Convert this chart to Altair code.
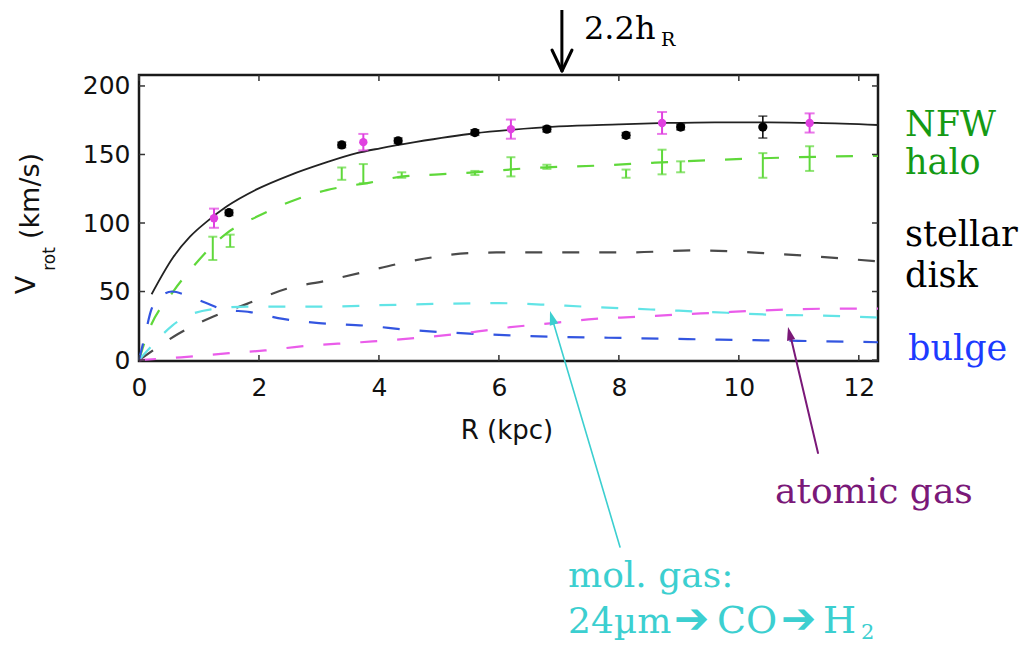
import math
import altair as alt
import pandas as pd

# ---------------- data ----------------
R_total = [0.21, 0.57, 0.85, 1.13, 1.46, 1.96, 2.52, 3.07, 3.63, 4.02, 4.6, 5.6, 6.2, 7.0, 8.0, 8.8, 9.6, 10.5, 11.3, 12.32]
V_total = [48, 75, 90, 101, 112, 124.5, 135, 143.5, 151, 154.5, 159, 165.5, 168, 170.5, 172, 173, 173.5, 173.5, 173, 171.5]

R_halo = [0, 0.15, 0.57, 0.9, 1.07, 1.46, 1.96, 2.52, 3.13, 3.85, 4.4, 5.0, 5.6, 6.5, 7.7, 8.6, 9.6, 11.0, 12.32]
V_halo = [0, 20, 50, 68, 76.5, 92.5, 104.5, 115.5, 124, 129.5, 134, 135.5, 137, 140, 142, 144, 146, 148, 149]

R_disk = [0, 0.3, 0.65, 1.25, 1.8, 2.46, 3.13, 3.68, 4.3, 4.9, 5.5, 6.0, 7.0, 8.1, 9.3, 10.6, 12.32]
V_disk = [0, 9, 19, 32, 41, 52, 58, 63.5, 70, 75, 78, 78.5, 78.5, 78.5, 80, 77.5, 72]

R_mol = [0, 0.25, 0.55, 0.8, 1.2, 1.8, 2.5, 3.2, 4.0, 5.0, 6.0, 6.7, 7.4, 8.2, 9.0, 9.8, 10.6, 11.3, 12.32]
V_mol = [0, 12, 25, 32, 37, 39, 39, 39, 40, 41, 41.5, 40.5, 39, 37.5, 36, 34.5, 33, 32.5, 31]

R_bulge = [0, 0.1, 0.2, 0.35, 0.55, 0.8, 1.1, 1.4, 1.85, 2.4, 3.0, 3.8, 4.5, 5.2, 6.2, 6.9, 8.2, 9.5, 11.0, 12.32]
V_bulge = [0, 18, 36, 46, 50, 47, 42, 37, 35, 30, 27, 25, 22, 20, 18, 17, 16, 15, 14, 13]

R_atomic = [0, 0.7, 1.5, 2.1, 2.7, 3.7, 4.85, 5.5, 6.0, 6.9, 7.6, 8.3, 8.9, 9.6, 10.3, 10.9, 11.6, 12.32]
V_atomic = [0, 2, 5, 7, 10, 13, 17, 20, 23, 27, 30, 31.5, 33, 34.5, 36, 37, 37.5, 37.5]

# observed rotation velocities (black) and error
R_obs = [1.5, 3.38, 4.32, 5.6, 6.8, 8.12, 9.03, 10.4]
V_obs = [107.5, 157, 160, 166, 168.5, 164, 170, 170]
E_obs = [2, 2, 2, 2, 2, 2, 2, 8]

# second tracer (magenta) with error
R_mag = [1.25, 3.74, 6.2, 8.72, 11.18]
V_mag = [103.5, 159, 168.5, 173, 173]
E_mag = [7, 6, 7, 8, 7]

# derived halo points (green) with error
R_hpt = [1.23, 1.52, 3.38, 3.74, 4.38, 5.6, 6.2, 6.8, 8.12, 8.72, 9.03, 10.4, 11.18]
V_hpt = [81.5, 87, 136, 136, 135, 136.5, 141, 141, 136, 144.5, 141, 142, 147]
E_hpt = [8.5, 4.5, 4.5, 7, 2, 1.5, 7, 1.5, 3, 9, 4, 9, 9]

x_ticks = [0, 2, 4, 6, 8, 10, 12]
y_ticks = [0, 50, 100, 150, 200]
R_arrow = 7.05  # 2.2 h_R

# ---------------- layout ----------------
W, H = 739, 286
X_DOM = [0, 12.32]
Y_DOM = [-0.7, 208]
SERIF = "DejaVu Serif"
SANS = "DejaVu Sans"

xs = alt.Scale(domain=X_DOM, nice=False, zero=False, padding=0)
ys = alt.Scale(domain=Y_DOM, nice=False, zero=False, padding=0)

def comp(name, R, V):
    return pd.DataFrame({"R": R, "V": V, "comp": name})

lines_df = pd.concat([
    comp("halo", R_halo, V_halo),
    comp("disk", R_disk, V_disk),
    comp("mol", R_mol, V_mol),
    comp("bulge", R_bulge, V_bulge),
    comp("atomic", R_atomic, V_atomic),
])
comp_names = ["halo", "disk", "mol", "bulge", "atomic"]
comp_colors = ["#5fd83a", "#4a4a4a", "#62e4e6", "#3355e0", "#ea5cea"]

xax = alt.Axis(values=x_ticks, format="d", ticks=False, domain=False, grid=False, title=None,
               labelFlush=False, labelFont=SANS, labelFontSize=25, labelColor="#111", labelPadding=14)
yax = alt.Axis(values=y_ticks, format="d", ticks=False, domain=False, grid=False, title=None,
               labelFlush=False, labelFont=SANS, labelFontSize=25, labelColor="#111", labelPadding=9)

dashed = alt.Chart(lines_df).mark_line(strokeDash=[17, 20], strokeWidth=2.2, interpolate="monotone").encode(
    x=alt.X("R:Q", scale=xs, axis=xax),
    y=alt.Y("V:Q", scale=ys, axis=yax),
    color=alt.Color("comp:N", scale=alt.Scale(domain=comp_names, range=comp_colors), legend=None),
    detail="comp:N",
)

total = alt.Chart(pd.DataFrame({"R": R_total, "V": V_total})).mark_line(
    color="#222", strokeWidth=1.8, interpolate="monotone").encode(x=alt.X("R:Q", scale=xs), y=alt.Y("V:Q", scale=ys))

def errbars(R, V, E, color, cap, width):
    df = pd.DataFrame({"R": R, "V": V, "lo": [v - e for v, e in zip(V, E)], "hi": [v + e for v, e in zip(V, E)]})
    base = alt.Chart(df)
    bar = base.mark_rule(color=color, strokeWidth=width).encode(
        x=alt.X("R:Q", scale=xs), y=alt.Y("lo:Q", scale=ys), y2="hi:Q")
    lo = base.mark_tick(color=color, orient="horizontal", size=cap, thickness=width).encode(
        x=alt.X("R:Q", scale=xs), y=alt.Y("lo:Q", scale=ys))
    hi = base.mark_tick(color=color, orient="horizontal", size=cap, thickness=width).encode(
        x=alt.X("R:Q", scale=xs), y=alt.Y("hi:Q", scale=ys))
    return [bar, lo, hi], base

halo_eb, _ = errbars(R_hpt, V_hpt, E_hpt, "#5fd83a", 9, 2)
obs_eb, obs_base = errbars(R_obs, V_obs, E_obs, "#111", 9, 1.6)
mag_eb, mag_base = errbars(R_mag, V_mag, E_mag, "#e040e0", 10, 2)

obs_pts = obs_base.mark_point(filled=True, color="#000", size=85, opacity=1, shape="circle").encode(
    x=alt.X("R:Q", scale=xs), y=alt.Y("V:Q", scale=ys))
mag_pts = mag_base.mark_point(filled=True, color="#e040e0", size=70, opacity=1, shape="circle").encode(
    x=alt.X("R:Q", scale=xs), y=alt.Y("V:Q", scale=ys))

# inward ticks on all four sides
xt = alt.Chart(pd.DataFrame({"t": x_ticks}))
yt = alt.Chart(pd.DataFrame({"t": y_ticks}))
tick_col = "#333"
ticks = [
    xt.mark_rule(color=tick_col, strokeWidth=1.5).encode(x=alt.X("t:Q", scale=xs), y=alt.value(H), y2=alt.value(H - 6)),
    xt.mark_rule(color=tick_col, strokeWidth=1.5).encode(x=alt.X("t:Q", scale=xs), y=alt.value(0), y2=alt.value(6)),
    yt.mark_rule(color=tick_col, strokeWidth=1.5).encode(y=alt.Y("t:Q", scale=ys), x=alt.value(0), x2=alt.value(6)),
    yt.mark_rule(color=tick_col, strokeWidth=1.5).encode(y=alt.Y("t:Q", scale=ys), x=alt.value(W), x2=alt.value(W - 6)),
]

one = alt.Chart(pd.DataFrame({"a": [0]}))
OX, OY = 139, 75  # page position of the plot origin

def text(t, px, py, size, color, font=SERIF, align="left", angle=0, baseline="alphabetic"):
    kw = dict(text=t, font=font, fontSize=size, color=color, align=align, baseline=baseline)
    if angle:
        kw["angle"] = angle
    return one.mark_text(**kw).encode(x=alt.value(px - OX), y=alt.value(py - OY))

def seg(x1, y1, x2, y2, color, w):
    return one.mark_rule(color=color, strokeWidth=w, strokeCap="round").encode(
        x=alt.value(x1 - OX), y=alt.value(y1 - OY), x2=alt.value(x2 - OX), y2=alt.value(y2 - OY))

def head(tx, ty, fx, fy, color, size):
    dx, dy = tx - fx, ty - fy
    L = math.hypot(dx, dy)
    ux, uy = dx / L, dy / L
    half = math.sqrt(size) / 2
    cx, cy = tx - ux * half, ty - uy * half
    ang = math.degrees(math.atan2(dx, -dy)) % 360
    return one.mark_point(shape="M0,-1L0.62,1L-0.62,1Z", filled=True, color=color, opacity=1,
                          size=size, angle=ang).encode(x=alt.value(cx - OX), y=alt.value(cy - OY))

CYAN = "#3ccfd0"
annot = [
    # axis titles
    text("R (kpc)", 507, 439, 26, "#111", font=SANS, align="center"),
    text("V", 27, 285, 27, "#111", font=SANS, align="center", angle=270, baseline="middle"),
    text("rot", 50, 259, 17, "#111", font=SANS, align="center", angle=270, baseline="middle"),
    text("(km/s)", 31, 196, 27, "#111", font=SANS, align="center", angle=270, baseline="middle"),
    # 2.2 h_R marker
    one.mark_rule(color="#000", strokeWidth=3).encode(
        x=alt.X("a:Q", scale=xs), y=alt.value(10 - OY), y2=alt.value(71 - OY)).transform_calculate(a=str(R_arrow)),
    seg(552, 50, 562, 71, "#000", 3),
    seg(572, 50, 562, 71, "#000", 3),
    text("2.2h", 584, 39, 32, "#000"),
    text("R", 661, 46, 19, "#000"),
    # component labels
    text("NFW", 905, 136, 35, "#159a15"),
    text("halo", 905, 174, 35, "#159a15"),
    text("stellar", 905, 246, 35, "#000"),
    text("disk", 905, 287, 35, "#000"),
    text("bulge", 908, 360, 35, "#1d3bff"),
    text("atomic gas", 775, 503, 36, "#7a1878"),
    text("mol. gas:", 568, 587, 36, CYAN),
    text("24µm", 568, 633, 36, CYAN),
    text("➔", 674, 633, 42, CYAN, font=SANS),
    text("CO", 717, 633, 38, CYAN),
    text("➔", 781, 633, 42, CYAN, font=SANS),
    text("H", 823, 633, 38, CYAN),
    text("2", 861, 639, 21, CYAN),
    # arrows to the gas curves
    seg(620, 547, 552, 318, CYAN, 1.6),
    head(550, 311, 620, 547, CYAN, 200),
    seg(818, 453, 790, 334, "#7a1878", 2),
    head(788, 327, 818, 453, "#7a1878", 180),
]

chart = alt.layer(dashed, total, *halo_eb, *obs_eb, *mag_eb, obs_pts, mag_pts, *ticks, *annot).properties(
    width=W, height=H,
    autosize=alt.AutoSizeParams(type="none"),
    padding={"left": OX - 8, "top": OY - 8, "right": 1020 - W - (OX - 8), "bottom": 636 - H - (OY - 8)},
).configure_view(stroke="#1a1a1a", strokeWidth=2.5)

chart.save("out.html", embed_options={"renderer": "svg", "actions": False})
